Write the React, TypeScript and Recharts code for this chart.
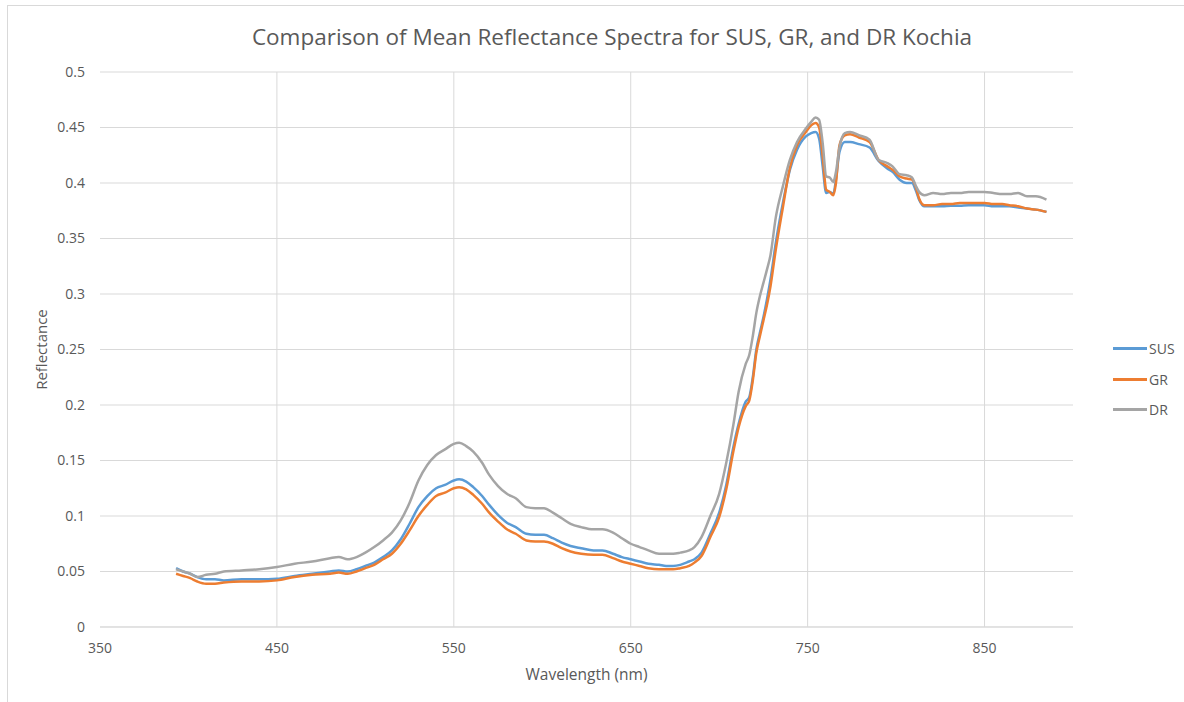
import React from "react";
import { LineChart, Line, XAxis, YAxis, CartesianGrid, ReferenceLine } from "recharts";

const wavelengths = [393, 397, 401, 405, 410, 415, 420, 430, 440, 450, 460, 470, 480, 485, 490, 495, 500, 505, 510, 515, 520, 525, 530, 535, 540, 545, 550, 553, 557, 561, 566, 570, 575, 580, 585, 591, 596, 601, 606, 611, 616, 622, 629, 634, 640, 645, 650, 655, 660, 666, 670, 674, 678, 683, 686, 690, 695, 700, 704, 708, 711, 715, 717, 719, 721, 723, 725, 727, 729, 732, 736, 740, 744, 749, 752, 754.5, 756.5, 758.5, 760.5, 762.5, 764.5, 766, 768, 771, 774, 779, 785, 790, 795, 798, 802, 806, 809, 811, 813, 816, 821, 826, 831, 836, 841, 845, 850, 855, 860, 864, 869, 874, 879, 885];

const sus = [0.053, 0.05, 0.048, 0.045, 0.043, 0.043, 0.042, 0.043, 0.043, 0.0435, 0.046, 0.048, 0.05, 0.051, 0.05, 0.052, 0.055, 0.058, 0.063, 0.069, 0.079, 0.093, 0.108, 0.118, 0.125, 0.128, 0.132, 0.133, 0.131, 0.126, 0.118, 0.11, 0.101, 0.094, 0.09, 0.084, 0.083, 0.083, 0.08, 0.076, 0.073, 0.071, 0.069, 0.069, 0.066, 0.063, 0.061, 0.059, 0.057, 0.056, 0.055, 0.055, 0.056, 0.059, 0.061, 0.067, 0.084, 0.103, 0.128, 0.162, 0.183, 0.203, 0.207, 0.225, 0.25, 0.265, 0.279, 0.295, 0.313, 0.346, 0.382, 0.412, 0.43, 0.442, 0.445, 0.446, 0.44, 0.415, 0.391, 0.392, 0.39, 0.403, 0.428, 0.437, 0.437, 0.435, 0.432, 0.42, 0.413, 0.41, 0.403, 0.4, 0.4, 0.394, 0.385, 0.379, 0.379, 0.379, 0.3795, 0.3796, 0.38, 0.38, 0.38, 0.379, 0.379, 0.379, 0.378, 0.377, 0.376, 0.374];

const gr = [0.048, 0.046, 0.044, 0.041, 0.039, 0.039, 0.04, 0.041, 0.041, 0.042, 0.045, 0.047, 0.048, 0.049, 0.048, 0.05, 0.053, 0.056, 0.061, 0.066, 0.075, 0.087, 0.1, 0.11, 0.118, 0.121, 0.125, 0.126, 0.124, 0.119, 0.111, 0.103, 0.095, 0.088, 0.084, 0.078, 0.077, 0.077, 0.075, 0.071, 0.068, 0.066, 0.065, 0.065, 0.062, 0.059, 0.057, 0.055, 0.053, 0.052, 0.052, 0.052, 0.053, 0.055, 0.058, 0.064, 0.081, 0.099, 0.124, 0.158, 0.18, 0.199, 0.204, 0.222, 0.247, 0.262, 0.276, 0.29, 0.307, 0.34, 0.378, 0.414, 0.434, 0.446, 0.452, 0.454, 0.45, 0.424, 0.394, 0.392, 0.389, 0.4, 0.434, 0.443, 0.444, 0.441, 0.437, 0.421, 0.415, 0.412, 0.406, 0.404, 0.403, 0.397, 0.386, 0.38, 0.38, 0.381, 0.381, 0.382, 0.382, 0.382, 0.382, 0.381, 0.381, 0.38, 0.379, 0.377, 0.376, 0.374];

const dr = [0.052, 0.05, 0.048, 0.045, 0.047, 0.048, 0.05, 0.051, 0.052, 0.054, 0.057, 0.059, 0.062, 0.063, 0.061, 0.063, 0.067, 0.072, 0.078, 0.085, 0.096, 0.112, 0.132, 0.146, 0.155, 0.16, 0.165, 0.166, 0.163, 0.158, 0.148, 0.137, 0.127, 0.12, 0.116, 0.108, 0.107, 0.107, 0.103, 0.098, 0.093, 0.09, 0.088, 0.088, 0.085, 0.08, 0.075, 0.072, 0.069, 0.066, 0.066, 0.066, 0.067, 0.069, 0.072, 0.081, 0.1, 0.12, 0.148, 0.182, 0.212, 0.237, 0.245, 0.262, 0.283, 0.298, 0.31, 0.322, 0.335, 0.369, 0.397, 0.421, 0.437, 0.449, 0.455, 0.459, 0.457, 0.436, 0.406, 0.405, 0.401, 0.41, 0.432, 0.445, 0.446, 0.443, 0.439, 0.421, 0.418, 0.415, 0.408, 0.407, 0.405, 0.398, 0.392, 0.389, 0.391, 0.39, 0.391, 0.391, 0.392, 0.392, 0.392, 0.391, 0.39, 0.39, 0.391, 0.388, 0.388, 0.385];

const xTicks = [350, 450, 550, 650, 750, 850];
const xGridTicks = [450, 550, 650, 750, 850];
const yTicks = [0, 0.05, 0.1, 0.15, 0.2, 0.25, 0.3, 0.35, 0.4, 0.45, 0.5];

const seriesNames = ["SUS", "GR", "DR"];
const seriesColors = ["#5B9BD5", "#ED7D31", "#A5A5A5"];

const data = wavelengths.map((w, i) => ({ w, SUS: sus[i], GR: gr[i], DR: dr[i] }));

const FONT = "'Open Sans', sans-serif";
const TXT = "#595959";

export default function App() {
  return (
    <div style={{ position: "absolute", left: 0, top: 0, width: 1184, height: 702, background: "#fff", fontFamily: FONT, overflow: "hidden" }}>
      <div style={{ position: "absolute", left: 7, top: 5, width: 1200, height: 720, border: "1px solid #d9d9d9" }} />
      <div style={{ position: "absolute", left: 0, top: 21, width: 1224, textAlign: "center", fontSize: 22.5, color: TXT, whiteSpace: "nowrap" }}>
        Comparison of Mean Reflectance Spectra for SUS, GR, and DR Kochia
      </div>
      <div style={{ position: "absolute", left: 0, top: 0 }}>
        <LineChart width={1184} height={702} data={data} margin={{ top: 72, right: 111, bottom: 45, left: 40 }}>
          <CartesianGrid stroke="#d9d9d9" vertical={false} />
          {xGridTicks.map((t) => (
            <ReferenceLine key={t} x={t} stroke="#d9d9d9" />
          ))}
          <XAxis
            dataKey="w"
            type="number"
            domain={[350, 900]}
            ticks={xTicks}
            tickLine={false}
            tickSize={0}
            tickMargin={16}
            height={30}
            axisLine={{ stroke: "#d9d9d9", strokeWidth: 1 }}
            tick={{ fill: TXT, fontSize: 14, fontFamily: FONT }}
            label={{ value: "Wavelength (nm)", position: "insideBottom", offset: -23, fill: TXT, fontSize: 15.5, fontFamily: FONT }}
          />
          <YAxis
            type="number"
            domain={[0, 0.5]}
            ticks={yTicks}
            tickLine={false}
            axisLine={false}
            tickSize={0}
            tickMargin={15}
            width={60}
            tick={{ fill: TXT, fontSize: 14, fontFamily: FONT }}
            label={{ value: "Reflectance", angle: -90, position: "insideLeft", offset: 2, fill: TXT, fontSize: 15, fontFamily: FONT, style: { textAnchor: "middle" } }}
          />
          {seriesNames.map((n, i) => (
            <Line key={n} type="monotone" dataKey={n} stroke={seriesColors[i]} strokeWidth={2.5} dot={false} isAnimationActive={false} />
          ))}
        </LineChart>
      </div>
      {seriesNames.map((n, i) => (
        <div key={n} style={{ position: "absolute", left: 1113, top: 339 + i * 30.5, display: "flex", alignItems: "center", fontSize: 14, color: TXT }}>
          <div style={{ width: 34, height: 3, background: seriesColors[i], marginRight: 2 }} />
          <span>{n}</span>
        </div>
      ))}
    </div>
  );
}
